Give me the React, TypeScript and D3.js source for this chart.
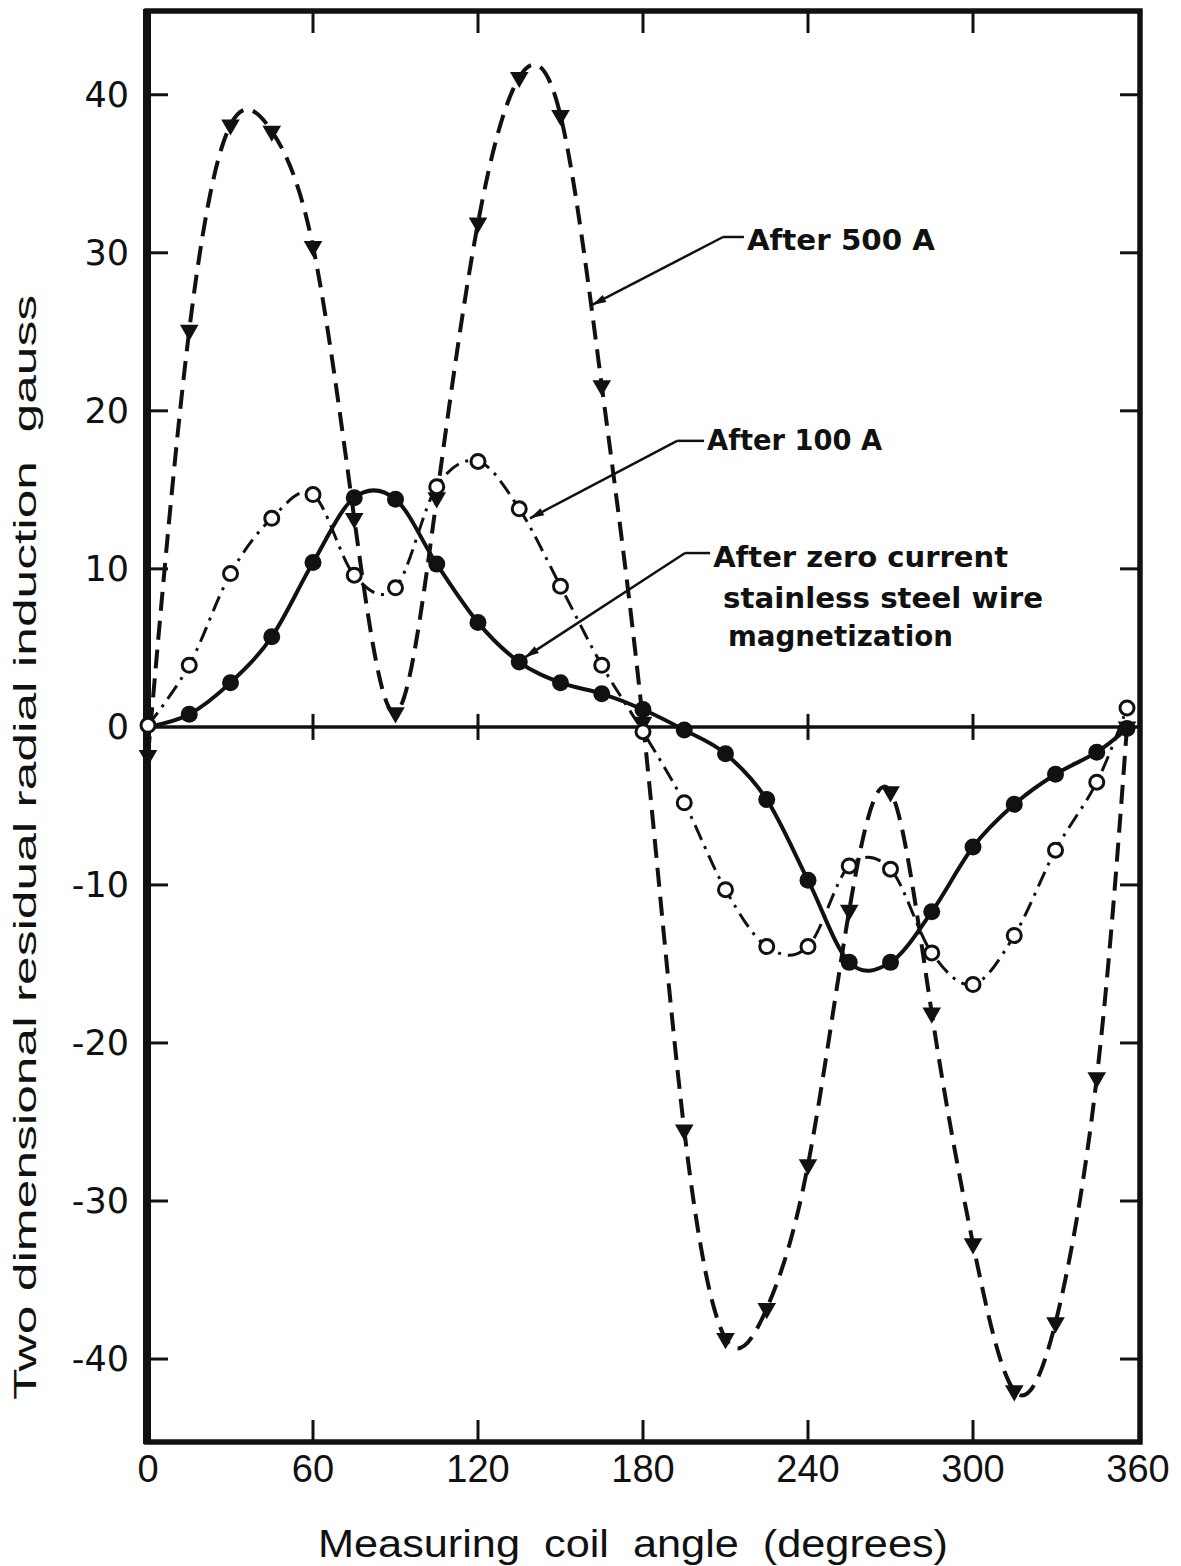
import React, { useEffect, useRef } from "react";
import * as d3 from "d3";

// measuring coil angle, degrees (last reading sits just short of 360)
const angles = [
  0, 15, 30, 45, 60, 75, 90, 105, 120, 135, 150, 165, 180, 195, 210, 225, 240,
  255, 270, 285, 300, 315, 330, 345, 356,
];

// residual radial induction, gauss
const zeroCurrent = [
  0, 0.8, 2.8, 5.7, 10.4, 14.5, 14.4, 10.3, 6.6, 4.1, 2.8, 2.1, 1.1, -0.2, -1.7,
  -4.6, -9.7, -14.9, -14.9, -11.7, -7.6, -4.9, -3.0, -1.6, -0.1,
];
const after100 = [
  0.1, 3.9, 9.7, 13.2, 14.7, 9.6, 8.8, 15.2, 16.8, 13.8, 8.9, 3.9, -0.3, -4.8,
  -10.3, -13.9, -13.9, -8.8, -9.0, -14.3, -16.3, -13.2, -7.8, -3.5, 1.2,
];
const after500 = [
  -1.8, 25.1, 38.1, 37.7, 30.4, 13.2, 0.9, 14.5, 31.9, 41.1, 38.7, 21.6, 0.3,
  -25.5, -38.7, -36.8, -27.7, -11.6, -4.1, -18.1, -32.7, -42.0, -37.7, -22.2, 0,
];

const xTicks = [0, 60, 120, 180, 240, 300, 360];
const yTicks = [40, 30, 20, 10, 0, -10, -20, -30, -40];

// leader labels, all in data units
const labels500 = ["After 500 A"];
const labels100 = ["After 100 A"];
const labelsZero = [
  "After zero current",
  "stainless steel wire",
  "magnetization",
];

const width = 1181;
const height = 1566;

const App: React.FC = () => {
  const svgRef = useRef<SVGSVGElement>(null);

  useEffect(() => {
    if (!svgRef.current) return;
    const svg = d3.select(svgRef.current);
    svg.selectAll("*").remove();

    const x = d3.scaleLinear().domain([0, 360]).range([148, 1138]);
    const y = d3.scaleLinear().domain([-45.25, 45.3]).range([1442, 11]);

    svg
      .append("rect")
      .attr("width", width)
      .attr("height", height)
      .attr("fill", "#ffffff");

    const left = x(0) - 1;
    const right = x(360) + 2;
    const top = y(45.3);
    const bottom = y(-45.25);

    // ticks (inward)
    const tickG = svg.append("g").attr("stroke", "#111").attr("stroke-width", 3);
    xTicks.slice(1, -1).forEach((t) => {
      tickG.append("line").attr("x1", x(t)).attr("x2", x(t)).attr("y1", top).attr("y2", top + 22);
      tickG.append("line").attr("x1", x(t)).attr("x2", x(t)).attr("y1", bottom).attr("y2", bottom - 22);
      tickG.append("line").attr("x1", x(t)).attr("x2", x(t)).attr("y1", y(0) - 13).attr("y2", y(0) + 13);
    });
    yTicks
      .filter((t) => t !== 0)
      .forEach((t) => {
        tickG.append("line").attr("x1", left).attr("x2", left + 21).attr("y1", y(t)).attr("y2", y(t));
        tickG.append("line").attr("x1", right).attr("x2", right - 20).attr("y1", y(t)).attr("y2", y(t));
      });

    // zero line
    svg
      .append("line")
      .attr("x1", left)
      .attr("x2", right)
      .attr("y1", y(0))
      .attr("y2", y(0))
      .attr("stroke", "#111")
      .attr("stroke-width", 3.5);

    // frame
    svg
      .append("rect")
      .attr("x", left)
      .attr("y", top)
      .attr("width", right - left)
      .attr("height", bottom - top)
      .attr("fill", "none")
      .attr("stroke", "#111")
      .attr("stroke-width", 5.5);
    svg
      .append("line")
      .attr("x1", left)
      .attr("x2", left)
      .attr("y1", top - 2)
      .attr("y2", bottom + 2)
      .attr("stroke", "#111")
      .attr("stroke-width", 8);

    // tick labels
    svg
      .append("g")
      .selectAll("text")
      .data(yTicks)
      .enter()
      .append("text")
      .attr("x", 129)
      .attr("y", (d) => y(d) + 12)
      .attr("text-anchor", "end")
      .attr("font-family", "DejaVu Sans, sans-serif")
      .attr("font-size", 35)
      .attr("fill", "#111")
      .text((d) => (d < 0 ? `-${-d}` : `${d}`));

    svg
      .append("g")
      .selectAll("text")
      .data(xTicks)
      .enter()
      .append("text")
      .attr("x", (d) => x(d))
      .attr("y", 1482)
      .attr("text-anchor", "middle")
      .attr("font-family", "Liberation Sans, Arial, sans-serif")
      .attr("font-size", 38)
      .attr("fill", "#111")
      .text((d) => `${d}`);

    // axis titles
    svg
      .append("text")
      .attr("x", 318)
      .attr("y", 1557)
      .attr("textLength", 630)
      .attr("lengthAdjust", "spacingAndGlyphs")
      .attr("font-family", "Liberation Sans, Arial, sans-serif")
      .attr("font-size", 38)
      .attr("fill", "#111")
      .text("Measuring  coil  angle  (degrees)")
      .style("white-space", "pre");

    svg
      .append("text")
      .attr("transform", "translate(36,1400) rotate(-90)")
      .attr("x", 0)
      .attr("y", 0)
      .attr("textLength", 1105)
      .attr("lengthAdjust", "spacingAndGlyphs")
      .attr("font-family", "Liberation Sans, Arial, sans-serif")
      .attr("font-size", 31)
      .attr("fill", "#111")
      .text("Two dimensional residual radial induction  gauss")
      .style("white-space", "pre");

    // curves
    const smooth = d3
      .line<number>()
      .x((_, i) => x(angles[i]))
      .y((d) => y(d))
      .curve(d3.curveCatmullRom.alpha(0));
    const natural = d3
      .line<number>()
      .x((_, i) => x(angles[i]))
      .y((d) => y(d))
      .curve(d3.curveNatural);

    svg
      .append("path")
      .attr("d", smooth(after100) || "")
      .attr("fill", "none")
      .attr("stroke", "#111")
      .attr("stroke-width", 3)
      .attr("stroke-dasharray", "16,7,3,7");

    svg
      .append("path")
      .attr("d", natural(after500) || "")
      .attr("fill", "none")
      .attr("stroke", "#111")
      .attr("stroke-width", 4)
      .attr("stroke-dasharray", "19,10");

    svg
      .append("path")
      .attr("d", smooth(zeroCurrent) || "")
      .attr("fill", "none")
      .attr("stroke", "#111")
      .attr("stroke-width", 4);

    // markers
    svg
      .append("g")
      .selectAll("path")
      .data(after500)
      .enter()
      .append("path")
      .attr("d", d3.symbol().type(d3.symbolTriangle).size(150)())
      .attr("transform", (d, i) => `translate(${x(angles[i])},${y(d)}) rotate(180)`)
      .attr("fill", "#111");

    svg
      .append("g")
      .selectAll("circle")
      .data(after100)
      .enter()
      .append("circle")
      .attr("cx", (_, i) => x(angles[i]))
      .attr("cy", (d) => y(d))
      .attr("r", 7)
      .attr("fill", "#fff")
      .attr("stroke", "#111")
      .attr("stroke-width", 3);

    svg
      .append("g")
      .selectAll("circle")
      .data(zeroCurrent.slice(1))
      .enter()
      .append("circle")
      .attr("cx", (_, i) => x(angles[i + 1]))
      .attr("cy", (d) => y(d))
      .attr("r", 8.5)
      .attr("fill", "#111");

    // leader annotations
    const leader = (
      elbow: [number, number],
      tip: [number, number],
      textStart: number,
      lines: string[],
      baselines: number[],
      indents: number[],
      lengths: number[]
    ) => {
      const ex = x(elbow[0]);
      const ey = y(elbow[1]);
      const tx = x(tip[0]);
      const ty = y(tip[1]);
      svg
        .append("line")
        .attr("x1", ex)
        .attr("y1", ey)
        .attr("x2", x(textStart) - 3)
        .attr("y2", ey)
        .attr("stroke", "#111")
        .attr("stroke-width", 2.5);
      svg
        .append("line")
        .attr("x1", ex)
        .attr("y1", ey)
        .attr("x2", tx)
        .attr("y2", ty)
        .attr("stroke", "#111")
        .attr("stroke-width", 2.5);
      const ang = Math.atan2(ty - ey, tx - ex);
      const a = 14;
      const w = 4;
      const bx = tx - a * Math.cos(ang);
      const by = ty - a * Math.sin(ang);
      svg
        .append("path")
        .attr(
          "d",
          `M${tx},${ty}L${bx - w * Math.sin(ang)},${by + w * Math.cos(ang)}L${bx + w * Math.sin(ang)},${by - w * Math.cos(ang)}Z`
        )
        .attr("fill", "#111");
      lines.forEach((t, i) => {
        svg
          .append("text")
          .attr("x", x(textStart + indents[i]))
          .attr("y", y(baselines[i]))
          .attr("textLength", lengths[i])
          .attr("lengthAdjust", "spacingAndGlyphs")
          .attr("font-family", "DejaVu Sans, sans-serif")
          .attr("font-weight", "bold")
          .attr("font-size", 29)
          .attr("fill", "#111")
          .text(t);
      });
    };

    leader([209.1, 31.0], [161.5, 26.7], 217.8, labels500, [30.2], [0], [188]);
    leader([192.4, 18.1], [138.9, 13.2], 203.3, labels100, [17.5], [0], [175]);
    leader(
      [195.3, 11.0],
      [137.1, 4.4],
      205.5,
      labelsZero,
      [10.1, 7.5, 5.1],
      [0, 3.6, 5.4],
      [295, 320, 225]
    );
  }, []);

  return (
    <div>
      <style>{`body{margin:0}`}</style>
      <svg ref={svgRef} width={width} height={height} style={{ display: "block" }} />
    </div>
  );
};

export default App;
